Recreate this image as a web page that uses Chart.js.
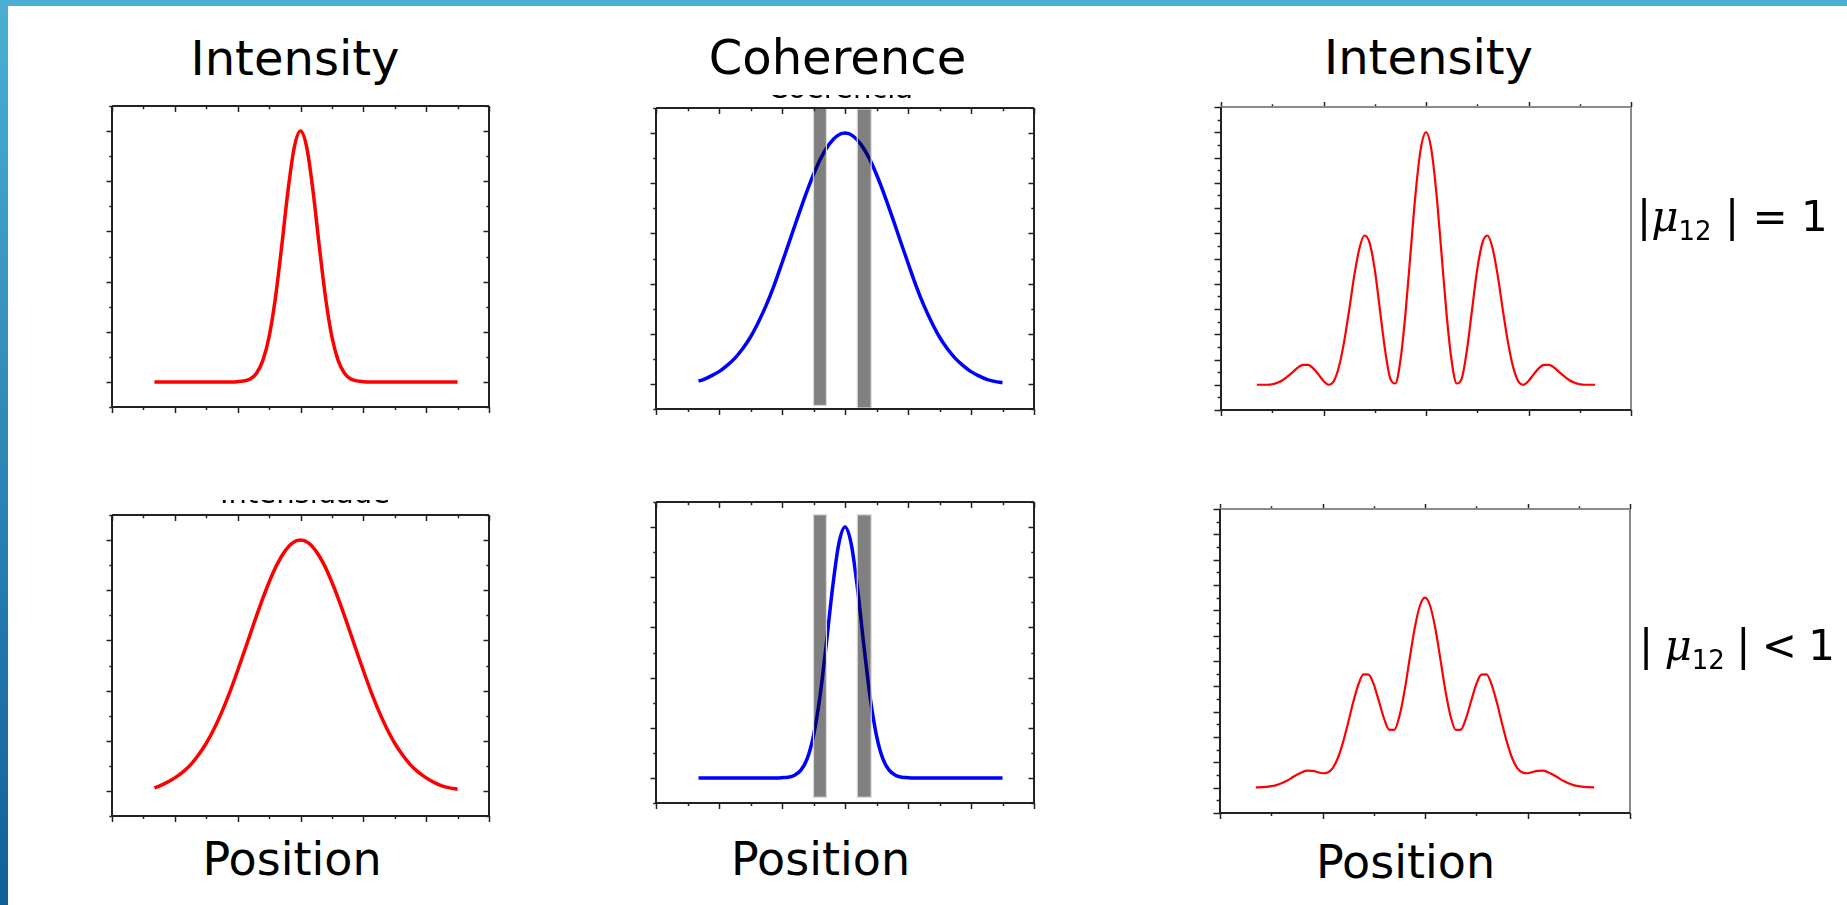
<!DOCTYPE html>
<html>
<head>
<meta charset="utf-8">
<script src="https://cdn.jsdelivr.net/npm/chart.js@4.4.1/dist/chart.umd.min.js"></script>
<style>
  html, body { margin: 0; padding: 0; background: #fff; }
  body { width: 1847px; height: 905px; position: relative; overflow: hidden; font-family: "DejaVu Sans", sans-serif; color: #000; }
  #topbar { position: absolute; left: 0; top: 0; width: 1847px; height: 6px; background: #4bafd3; }
  #sidebar { position: absolute; left: 0; top: 0; width: 8px; height: 905px; background: linear-gradient(#4bafd3, #0f5f9b); }
  canvas { position: absolute; }
  .lbl { position: absolute; white-space: nowrap; line-height: 1; transform: translateX(-50%); }
  .mu { position: absolute; white-space: nowrap; line-height: 1; font-size: 42px; }
  .mu i { font-family: "DejaVu Serif", serif; }
  .mu sub { font-size: 26px; vertical-align: -9px; line-height: 1; }
  .cut { position: absolute; overflow: hidden; }
  .cut span { position: absolute; left: 0; white-space: nowrap; line-height: 1; font-size: 29px; }
</style>
</head>
<body>
<div id="topbar"></div>
<div id="sidebar"></div>

<canvas id="c1"></canvas>
<canvas id="c2"></canvas>
<canvas id="c3"></canvas>
<canvas id="c4"></canvas>
<canvas id="c5"></canvas>
<canvas id="c6"></canvas>

<div class="mu" style="left:1637px; top:196px">|<i>μ</i><sub>12</sub> | = 1</div>
<div class="mu" style="left:1639px; top:625px; word-spacing:-2px">| <i>μ</i><sub>12</sub> | &lt; 1</div>

<!-- bits of the old titles that peek out from under the plots -->
<div class="cut" style="left:768px; top:95px; width:160px; height:4px"><span style="top:-21px">Coerência</span></div>
<div class="cut" style="left:220px; top:500px; width:180px; height:4px"><span style="top:-21px">Intensidade</span></div>

<script>
// single beam / wide gaussian (x from -4.65 to 5)
const wideX = [-4.65, -4.5, -4.25, -4, -3.75, -3.5, -3.25, -3, -2.75, -2.5, -2.25, -2, -1.75, -1.5, -1.25, -1, -0.75, -0.5, -0.25, 0,
               0.25, 0.5, 0.75, 1, 1.25, 1.5, 1.75, 2, 2.25, 2.5, 2.75, 3, 3.25, 3.5, 3.75, 4, 4.25, 4.5, 4.75, 5];
const beamWide = [0.012, 0.019, 0.034, 0.052, 0.075, 0.104, 0.143, 0.19, 0.248, 0.316, 0.394, 0.48, 0.57, 0.662, 0.751, 0.832, 0.902, 0.955, 0.989, 1.0,
                  0.989, 0.955, 0.902, 0.832, 0.751, 0.662, 0.57, 0.48, 0.394, 0.316, 0.248, 0.19, 0.143, 0.104, 0.075, 0.052, 0.034, 0.02, 0.012, 0.007];
const cohWide = [0.011, 0.017, 0.032, 0.049, 0.073, 0.102, 0.14, 0.187, 0.246, 0.314, 0.393, 0.482, 0.573, 0.665, 0.754, 0.835, 0.904, 0.956, 0.989, 1.0,
                 0.989, 0.956, 0.904, 0.835, 0.754, 0.665, 0.573, 0.482, 0.393, 0.314, 0.246, 0.187, 0.14, 0.102, 0.073, 0.049, 0.032, 0.018, 0.01, 0.005];

// narrow gaussians
const narrowX = [-4.65, -2.2, -2.0, -1.8, -1.6, -1.4, -1.2, -1.0, -0.8, -0.6, -0.4, -0.2, 0, 0.2, 0.4, 0.6, 0.8, 1.0, 1.2, 1.4, 1.6, 1.8, 2.0, 2.2, 5.0];
const beamNarrow = [0, 0, 0.001, 0.004, 0.012, 0.035, 0.085, 0.18, 0.334, 0.539, 0.76, 0.934, 1, 0.934, 0.76, 0.539, 0.334, 0.18, 0.085, 0.035, 0.012, 0.004, 0.001, 0, 0];
const cohNarrow = [0, 0, 0.001, 0.003, 0.011, 0.031, 0.077, 0.169, 0.32, 0.527, 0.752, 0.931, 1, 0.931, 0.752, 0.527, 0.32, 0.169, 0.077, 0.031, 0.011, 0.003, 0.001, 0, 0];

// fringe patterns
const fringeX = [-3.3,-3.2,-3.1,-3.0,-2.9,-2.8,-2.7,-2.6,-2.5,-2.4,-2.3,-2.2,-2.1,-2.0,-1.9,-1.8,-1.7,-1.6,-1.5,-1.4,-1.3,-1.2,-1.1,-1.0,-0.9,-0.8,-0.7,-0.6,-0.5,-0.4,-0.3,-0.2,-0.1,0,
                 0.1,0.2,0.3,0.4,0.5,0.6,0.7,0.8,0.9,1.0,1.1,1.2,1.3,1.4,1.5,1.6,1.7,1.8,1.9,2.0,2.1,2.2,2.3,2.4,2.5,2.6,2.7,2.8,2.9,3.0,3.1,3.2,3.3];
const fringeFull = [0,0,0,0.002,0.008,0.018,0.033,0.050,0.068,0.079,0.079,0.065,0.041,0.015,0.000,0.014,0.070,0.168,0.295,0.432,0.540,0.591,0.562,0.457,0.299,0.139,0.026,0.005,0.095,0.283,0.526,0.765,0.937,1.000,
                    0.937,0.765,0.526,0.283,0.095,0.005,0.026,0.139,0.299,0.457,0.562,0.591,0.540,0.432,0.295,0.168,0.070,0.014,0.000,0.015,0.041,0.065,0.079,0.079,0.068,0.050,0.033,0.018,0.008,0.002,0,0,0];
const fringePartial = [0.001,0.002,0.003,0.006,0.010,0.017,0.027,0.039,0.051,0.061,0.067,0.066,0.062,0.057,0.060,0.077,0.117,0.179,0.256,0.338,0.407,0.447,0.446,0.408,0.342,0.274,0.229,0.228,0.281,0.381,0.508,0.630,0.718,0.750,
                       0.718,0.630,0.508,0.381,0.281,0.228,0.229,0.274,0.342,0.408,0.446,0.447,0.407,0.338,0.256,0.179,0.117,0.077,0.060,0.057,0.062,0.066,0.067,0.061,0.051,0.039,0.027,0.017,0.010,0.006,0.003,0.002,0.001];

// the two slits (x from / to, y from / to)
const slitX0 = [-1.0, 0.39];
const slitX1 = [-0.59, 0.83];
const slitTopHi = [1.1, 1.096];
const slitTopLo = [-0.086, -0.096];
const slitBotHi = [1.049, 1.049];
const slitBotLo = [-0.077, -0.077];

// tick values
const boxXTicks = [-6, -5, -4, -3, -2, -1, 0, 1, 2, 3, 4, 5, 6];
const boxXMajor = [-6, -4, -2, 0, 2, 4, 6];
const boxYTicks = [-0.1, 0, 0.1, 0.2, 0.3, 0.4, 0.5, 0.6, 0.7, 0.8, 0.9, 1.0, 1.1];
const boxYMajor = [0, 0.2, 0.4, 0.6, 0.8, 1.0];
const frXTicks = [-4, -3, -2, -1, 0, 1, 2, 3, 4];
const frXMajor = [-4, -2, 0, 2, 4];
const frYTicks = [-0.1, -0.05, 0, 0.05, 0.1, 0.15, 0.2, 0.25, 0.3, 0.35, 0.4, 0.45, 0.5, 0.55, 0.6, 0.65, 0.7, 0.75, 0.8, 0.85, 0.9, 0.95, 1.0, 1.05, 1.1];
const frYMajor = [-0.1, 0, 0.1, 0.2, 0.3, 0.4, 0.5, 0.6, 0.7, 0.8, 0.9, 1.0, 1.1];

const PAD = 12;
const isIn = (arr, v) => arr.some(a => Math.abs(a - v) < 1e-9);

// tick lengths [major, minor], positive = outside the box
const BOX_STYLE = { top: [-6, -3.3], bottom: [6, 3], left: [5.5, 2.7], right: [-5.5, -2.7],
                    edges: ['#222', '#222', '#222', '#222'] };
const FRINGE_STYLE = { top: [5, 2.7], bottom: [6, 3], left: [6.5, 3.4], right: null,
                       edges: ['#8a8a8a', '#8a8a8a', '#222', '#222'] };

function frame(xt, xm, yt, ym, st) {
    return {
        id: 'frame',
        afterDraw(chart) {
            const { ctx, chartArea: a, scales: { x, y } } = chart;
            ctx.save();
            ctx.lineWidth = 1.5;
            ctx.strokeStyle = '#222';
            ctx.beginPath();
            xt.forEach(v => {
                const px = Math.round(x.getPixelForValue(v)) + 0.5;
                const k = isIn(xm, v) ? 0 : 1;
                if (st.top) { ctx.moveTo(px, a.top); ctx.lineTo(px, a.top - st.top[k]); }
                if (st.bottom) { ctx.moveTo(px, a.bottom); ctx.lineTo(px, a.bottom + st.bottom[k]); }
            });
            yt.forEach(v => {
                const py = Math.round(y.getPixelForValue(v)) + 0.5;
                const k = isIn(ym, v) ? 0 : 1;
                if (st.left) { ctx.moveTo(a.left, py); ctx.lineTo(a.left - st.left[k], py); }
                if (st.right) { ctx.moveTo(a.right, py); ctx.lineTo(a.right + st.right[k], py); }
            });
            ctx.stroke();
            // box: top, right, bottom, left
            ctx.lineWidth = 2;
            const seg = [[a.left, a.top, a.right, a.top], [a.right, a.top, a.right, a.bottom],
                         [a.left, a.bottom, a.right, a.bottom], [a.left, a.top, a.left, a.bottom]];
            seg.forEach((s, i) => {
                ctx.strokeStyle = st.edges[i];
                ctx.beginPath();
                ctx.moveTo(s[0], s[1]); ctx.lineTo(s[2], s[3]);
                ctx.stroke();
            });
            ctx.restore();
        }
    };
}

function slits(hi, lo) {
    return {
        id: 'slits',
        afterDatasetsDraw(chart) {
            const { ctx, scales: { x, y } } = chart;
            ctx.save();
            slitX0.forEach((x0, i) => {
                const l = x.getPixelForValue(x0), r = x.getPixelForValue(slitX1[i]);
                const t = y.getPixelForValue(hi[i]), b = y.getPixelForValue(lo[i]);
                ctx.globalCompositeOperation = 'multiply';
                ctx.fillStyle = '#808080';
                ctx.fillRect(l, t, r - l, b - t);
                ctx.globalCompositeOperation = 'source-over';
                ctx.strokeStyle = '#d8d8d8';
                ctx.lineWidth = 1.2;
                ctx.strokeRect(l, t, r - l, b - t);
            });
            ctx.restore();
        }
    };
}

function panel(id, box, xr, yr, xs, ys, color, lw, plugins) {
    const cv = document.getElementById(id);
    cv.width = box.w + 2 * PAD;
    cv.height = box.h + 2 * PAD;
    cv.style.left = (box.l - PAD) + 'px';
    cv.style.top = (box.t - PAD) + 'px';
    return new Chart(cv.getContext('2d'), {
        type: 'line',
        data: {
            datasets: [{
                data: xs.map((v, i) => ({ x: v, y: ys[i] })),
                borderColor: color,
                borderWidth: lw,
                pointRadius: 0,
                fill: false,
                cubicInterpolationMode: 'monotone'
            }]
        },
        options: {
            responsive: false,
            animation: false,
            devicePixelRatio: 1,
            layout: { padding: PAD },
            events: [],
            plugins: { legend: { display: false }, tooltip: { enabled: false } },
            scales: {
                x: { type: 'linear', min: xr[0], max: xr[1], display: false },
                y: { type: 'linear', min: yr[0], max: yr[1], display: false }
            }
        },
        plugins: plugins
    });
}

function label(text, cx, base, size) {
    const d = document.createElement('div');
    d.className = 'lbl';
    d.textContent = text;
    d.style.fontSize = size + 'px';
    d.style.left = cx + 'px';
    d.style.top = (base - 0.846 * size) + 'px';
    document.body.appendChild(d);
}

const boxFrame = frame(boxXTicks, boxXMajor, boxYTicks, boxYMajor, BOX_STYLE);
const frFrame = frame(frXTicks, frXMajor, frYTicks, frYMajor, FRINGE_STYLE);

panel('c1', { l: 112, t: 106, w: 377, h: 301 }, [-6, 6], [-0.1, 1.1], narrowX, beamNarrow, '#ff0000', 3.5, [boxFrame]);
panel('c2', { l: 656, t: 108, w: 378, h: 301 }, [-6, 6], [-0.1, 1.1], wideX, cohWide, '#0000ff', 3.5, [slits(slitTopHi, slitTopLo), boxFrame]);
panel('c3', { l: 1221, t: 107, w: 410, h: 303 }, [-4, 4], [-0.1, 1.1], fringeX, fringeFull, '#ff0000', 2.2, [frFrame]);
panel('c4', { l: 112, t: 515, w: 377, h: 301 }, [-6, 6], [-0.1, 1.1], wideX, beamWide, '#ff0000', 3.5, [boxFrame]);
panel('c5', { l: 656, t: 502, w: 378, h: 301 }, [-6, 6], [-0.1, 1.1], narrowX, cohNarrow, '#0000ff', 3.5, [slits(slitBotHi, slitBotLo), boxFrame]);
panel('c6', { l: 1220, t: 509, w: 410, h: 304 }, [-4, 4], [-0.1, 1.1], fringeX, fringePartial, '#ff0000', 2.2, [frFrame]);

label('Intensity', 295, 75, 48);
label('Coherence', 837.5, 74, 48);
label('Intensity', 1428.5, 74, 48);
label('Position', 292, 875, 46);
label('Position', 820.5, 875, 46);
label('Position', 1405.5, 877.5, 46);
</script>
</body>
</html>
